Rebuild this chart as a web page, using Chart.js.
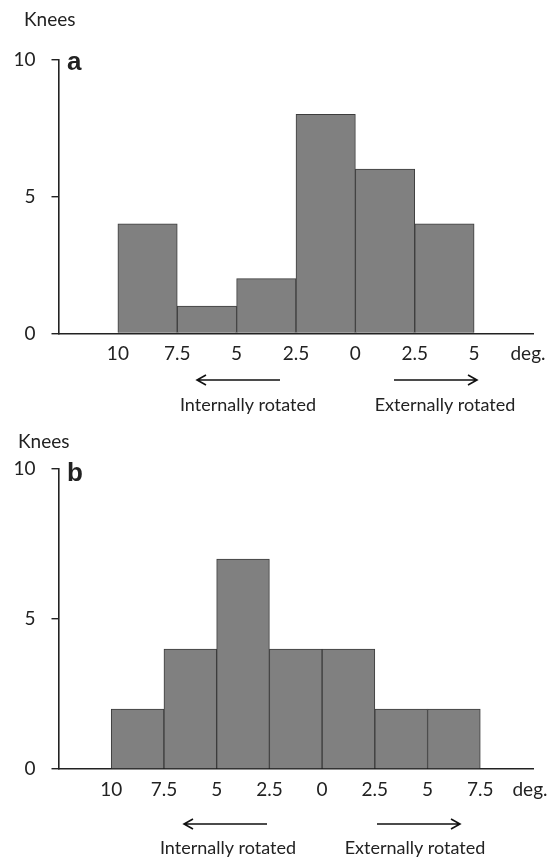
<!DOCTYPE html>
<html>
<head>
<meta charset="utf-8">
<script src="https://cdn.jsdelivr.net/npm/chart.js@4"></script>
<style>
  body { margin: 0; background: #fff; }
  canvas { display: block; }
</style>
</head>
<body>
<canvas id="chartA" width="554" height="430"></canvas>
<canvas id="chartB" width="554" height="429"></canvas>
<script>
// 데이터 (bin 경계 라벨, 각 bin 무릎 수)
var edgeLabelsA = ['10', '7.5', '5', '2.5', '0', '2.5', '5'];
var countsA = [4, 1, 2, 8, 6, 4];

var edgeLabelsB = ['10', '7.5', '5', '2.5', '0', '2.5', '5', '7.5'];
var countsB = [2, 4, 7, 4, 4, 2, 2];

var yTicks = [0, 5, 10];

var FONT = 'Lato, "Open Sans", sans-serif';
var TEXT = '#222';

// 주석: 제목, 패널 문자, 화살표
function notesPlugin(n) {
    return {
        id: 'notes',
        afterDraw: function (chart) {
            var c = chart.ctx;
            c.save();
            c.fillStyle = TEXT;
            c.textBaseline = 'middle';
            c.font = '19px ' + FONT;
            c.textAlign = 'left';
            c.fillText('Knees', n.kneesX, n.kneesY);
            c.font = 'bold 26px "Liberation Sans", Arial, sans-serif';
            c.fillText(n.panel, n.panelX, n.panelY);
            c.font = '19px ' + FONT;
            c.textAlign = 'center';
            c.fillText('deg.', n.degX, n.tickY);
            c.font = '18px ' + FONT;
            c.fillText('Internally rotated', n.inX, n.textY);
            c.fillText('Externally rotated', n.exX, n.textY);

            c.strokeStyle = '#111';
            c.lineWidth = 1.6;
            // 왼쪽 화살표
            c.beginPath();
            c.moveTo(n.leftArrow[0], n.arrowY);
            c.lineTo(n.leftArrow[1], n.arrowY);
            c.moveTo(n.leftArrow[0] + 9, n.arrowY - 5);
            c.lineTo(n.leftArrow[0], n.arrowY);
            c.lineTo(n.leftArrow[0] + 9, n.arrowY + 5);
            // 오른쪽 화살표
            c.moveTo(n.rightArrow[0], n.arrowY);
            c.lineTo(n.rightArrow[1], n.arrowY);
            c.moveTo(n.rightArrow[1] - 9, n.arrowY - 5);
            c.lineTo(n.rightArrow[1], n.arrowY);
            c.lineTo(n.rightArrow[1] - 9, n.arrowY + 5);
            c.stroke();
            c.restore();
        }
    };
}

function makeChart(id, edgeLabels, counts, box, notes) {
    var bars = counts.map(function (v, i) { return { x: i + 0.5, y: v }; });
    var nBins = counts.length;
    return new Chart(document.getElementById(id), {
        type: 'bar',
        data: {
            datasets: [{
                data: bars,
                backgroundColor: '#808080',
                borderColor: '#3c3c3c',
                borderWidth: 1,
                barPercentage: 1.0,
                categoryPercentage: 1.0
            }]
        },
        options: {
            responsive: false,
            animation: false,
            layout: {
                padding: { left: 0, top: box.top, right: box.right, bottom: 0 }
            },
            plugins: {
                legend: { display: false },
                tooltip: { enabled: false }
            },
            scales: {
                x: {
                    type: 'linear',
                    offset: false,
                    min: -1,
                    max: box.xMax,
                    grid: { display: false, drawTicks: false, offset: false },
                    border: { display: true, color: '#222', width: 1.6 },
                    ticks: {
                        stepSize: 1,
                        autoSkip: false,
                        maxRotation: 0,
                        padding: box.tickPad,
                        color: TEXT,
                        font: { family: FONT, size: 19 },
                        callback: function (v) {
                            return (v >= 0 && v <= nBins) ? edgeLabels[v] : '';
                        }
                    },
                    afterFit: function (s) { s.height = box.xHeight; }
                },
                y: {
                    min: 0,
                    max: 10,
                    afterBuildTicks: function (s) {
                        s.ticks = yTicks.map(function (v) { return { value: v }; });
                    },
                    grid: {
                        display: true,
                        drawOnChartArea: false,
                        drawTicks: true,
                        tickLength: 7,
                        color: '#222',
                        lineWidth: 1.4
                    },
                    border: { display: true, color: '#222', width: 1.6 },
                    ticks: {
                        padding: 16,
                        color: TEXT,
                        font: { family: FONT, size: 19 }
                    },
                    afterFit: function (s) { s.width = box.yWidth; }
                }
            }
        },
        plugins: [notesPlugin(notes)]
    });
}

makeChart('chartA', edgeLabelsA, countsA,
    { top: 59.5, right: 20.5, xHeight: 96.5, yWidth: 58.5, xMax: 7, tickPad: 9 },
    {
        panel: 'a', panelX: 67, panelY: 63,
        kneesX: 24, kneesY: 20,
        degX: 528, tickY: 354,
        leftArrow: [197, 280], rightArrow: [394, 477], arrowY: 380,
        inX: 248, exX: 445, textY: 405
    });

makeChart('chartB', edgeLabelsB, countsB,
    { top: 39, right: 21, xHeight: 90, yWidth: 58.5, xMax: 8, tickPad: 9.5 },
    {
        panel: 'b', panelX: 67, panelY: 44,
        kneesX: 18, kneesY: 12,
        degX: 530, tickY: 360,
        leftArrow: [184, 267], rightArrow: [377, 460], arrowY: 394,
        inX: 228, exX: 415, textY: 418
    });
</script>
</body>
</html>
